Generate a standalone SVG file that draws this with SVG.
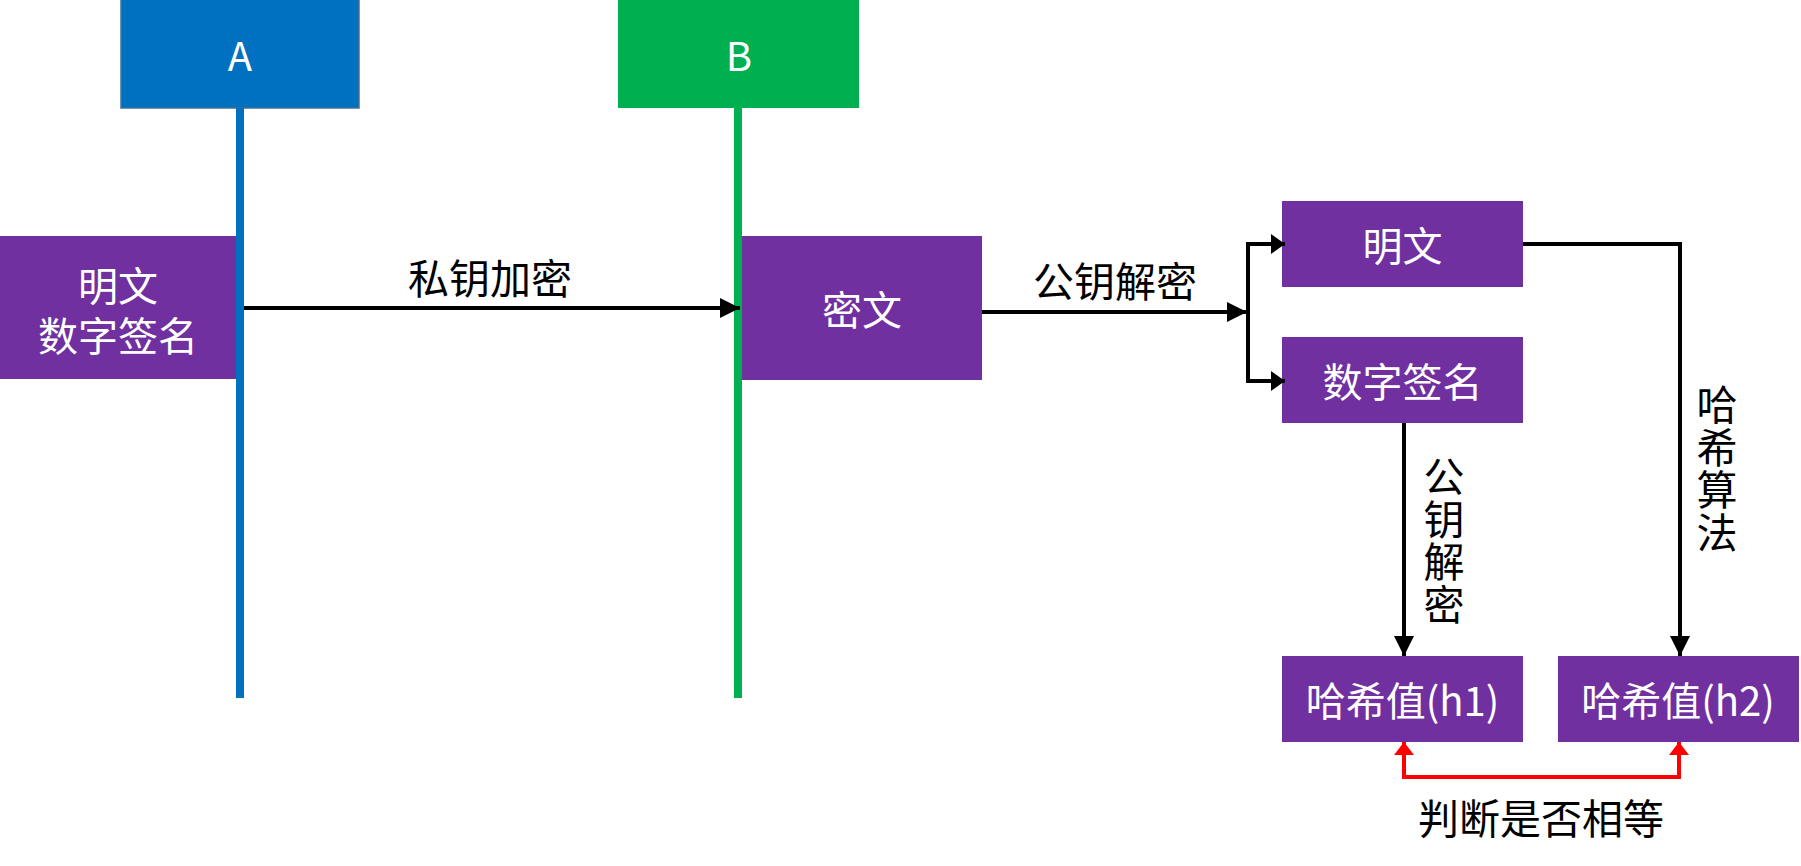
<svg xmlns="http://www.w3.org/2000/svg" width="1801" height="866" viewBox="0 0 1801 866">
<style>
.t{font-family:"Noto Sans CJK SC","Noto Sans",sans-serif;text-anchor:middle;dominant-baseline:central}
.w{fill:#fff;font-size:40px}
.k{fill:#000;font-size:41px}
.v{writing-mode:vertical-rl;letter-spacing:1.5px}
.p{fill:#7030A0}
.ln{fill:none;stroke:#000;stroke-width:4}
.rd{fill:none;stroke:#FF0000;stroke-width:4}
</style>
<defs>
<marker id="ah" markerUnits="userSpaceOnUse" viewBox="0 0 20 20" markerWidth="20" markerHeight="20" refX="20" refY="10" orient="auto"><path d="M0,0 L20,10 L0,20 z" fill="#000"/></marker>
<marker id="as" markerUnits="userSpaceOnUse" viewBox="0 0 14 20" markerWidth="14" markerHeight="20" refX="14" refY="10" orient="auto"><path d="M0,0 L14,10 L0,20 z" fill="#000"/></marker>
<marker id="ar" markerUnits="userSpaceOnUse" viewBox="0 0 13 20" markerWidth="13" markerHeight="20" refX="13" refY="10" orient="auto-start-reverse"><path d="M0,0 L13,10 L0,20 z" fill="#FF0000"/></marker>
</defs>
<rect width="1801" height="866" fill="#fff"/>

<g id="A">
<rect x="121" y="-1" width="238" height="109" fill="#0070C0" stroke="#41719C" stroke-width="1.5"/>
<text class="t" x="240" y="54" fill="#fff" font-size="40">A</text>
<rect x="236" y="108" width="8" height="590" fill="#0070C0"/>
</g>

<g id="B">
<rect x="618" y="0" width="241" height="108" fill="#00B050"/>
<text class="t" x="739" y="54" fill="#fff" font-size="40">B</text>
<rect x="734" y="108" width="8" height="590" fill="#00B050"/>
</g>

<g id="src">
<rect class="p" x="0" y="236" width="236" height="143"/>
<text class="t w"><tspan x="118" y="284">明文</tspan><tspan x="118" y="334">数字签名</tspan></text>
</g>

<g id="cipher">
<rect class="p" x="742" y="236" width="240" height="144"/>
<text class="t w" x="862" y="308">密文</text>
</g>

<g id="plain">
<rect class="p" x="1282" y="201" width="241" height="86"/>
<text class="t w" x="1402.5" y="244">明文</text>
</g>

<g id="sig">
<rect class="p" x="1282" y="337" width="241" height="86"/>
<text class="t w" x="1402.5" y="380">数字签名</text>
</g>

<g id="h1">
<rect class="p" x="1282" y="656" width="241" height="86"/>
<text class="t w" x="1402.5" y="699">哈希值(h1)</text>
</g>

<g id="h2">
<rect class="p" x="1558" y="656" width="241" height="86"/>
<text class="t w" x="1678" y="699">哈希值(h2)</text>
</g>

<g id="connectors">
<path class="ln" d="M244,308 H740" marker-end="url(#ah)"/>
<path class="ln" d="M982,312 H1247" marker-end="url(#ah)"/>
<path class="ln" d="M1248,312 V244 H1285" marker-end="url(#as)"/>
<path class="ln" d="M1248,312 V381 H1285" marker-end="url(#as)"/>
<path class="ln" d="M1404,423 V656" marker-end="url(#ah)"/>
<path class="ln" d="M1523,244 H1680 V656" marker-end="url(#ah)"/>
<path class="rd" d="M1404,742 V777 H1679 V742" marker-start="url(#ar)" marker-end="url(#ar)"/>
</g>

<g id="labels">
<text class="t k" x="490" y="276">私钥加密</text>
<text class="t k" x="1115" y="279">公钥解密</text>
<text class="t k v" x="1444" y="541">公钥解密</text>
<text class="t k v" x="1717" y="469">哈希算法</text>
<text class="t k" x="1541" y="816">判断是否相等</text>
</g>
</svg>
